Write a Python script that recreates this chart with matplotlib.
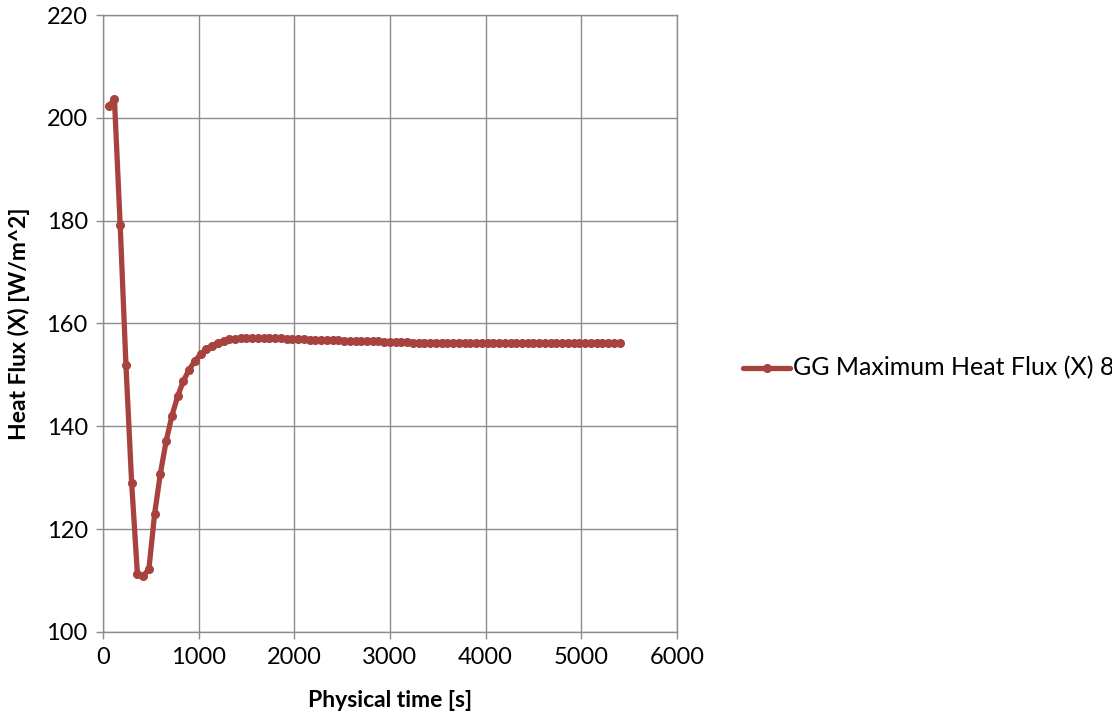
import matplotlib
matplotlib.use("Agg")
import matplotlib.pyplot as plt
from matplotlib.lines import Line2D

plt.rcParams['font.family'] = ['Lato', 'DejaVu Sans']

# Physical time [s]
time_s = [
    60, 120, 180, 240, 300, 360, 420, 480, 540, 600,
    660, 720, 780, 840, 900, 960, 1020, 1080, 1140, 1200,
    1260, 1320, 1380, 1440, 1500, 1560, 1620, 1680, 1740, 1800,
    1860, 1920, 1980, 2040, 2100, 2160, 2220, 2280, 2340, 2400,
    2460, 2520, 2580, 2640, 2700, 2760, 2820, 2880, 2940, 3000,
    3060, 3120, 3180, 3240, 3300, 3360, 3420, 3480, 3540, 3600,
    3660, 3720, 3780, 3840, 3900, 3960, 4020, 4080, 4140, 4200,
    4260, 4320, 4380, 4440, 4500, 4560, 4620, 4680, 4740, 4800,
    4860, 4920, 4980, 5040, 5100, 5160, 5220, 5280, 5340, 5400,
]

# GG maximum heat flux (X) [W/m^2]
heat_flux = [
    202.3, 203.6, 179.1, 152.0, 128.9, 111.3, 110.9, 112.2, 123.0, 130.8,
    137.1, 142.0, 145.8, 148.8, 151.0, 152.7, 154.0, 155.0, 155.7, 156.2,
    156.6, 156.9, 157.0, 157.1, 157.2, 157.2, 157.2, 157.2, 157.2, 157.1,
    157.1, 157.0, 157.0, 156.9, 156.9, 156.8, 156.8, 156.8, 156.7, 156.7,
    156.7, 156.6, 156.6, 156.6, 156.5, 156.5, 156.5, 156.5, 156.4, 156.4,
    156.4, 156.4, 156.4, 156.3, 156.3, 156.3, 156.3, 156.3, 156.3, 156.3,
    156.3, 156.3, 156.2, 156.2, 156.2, 156.2, 156.2, 156.2, 156.2, 156.2,
    156.2, 156.2, 156.2, 156.2, 156.2, 156.2, 156.2, 156.2, 156.2, 156.2,
    156.2, 156.2, 156.2, 156.2, 156.2, 156.2, 156.2, 156.2, 156.2, 156.2,
]

series_label = "GG Maximum Heat Flux (X) 8"
x_ticks = [0, 1000, 2000, 3000, 4000, 5000, 6000]
y_ticks = [100, 120, 140, 160, 180, 200, 220]

line_color = "#A8423F"
grid_color = "#8C8C8C"

fig = plt.figure(figsize=(11.12, 7.22), dpi=100)
ax = fig.add_axes([0.0926, 0.1247, 0.5162, 0.8545])

ax.plot(time_s, heat_flux, color=line_color, linewidth=3.8,
        marker='o', markersize=5.5, markerfacecolor=line_color,
        markeredgecolor=line_color, solid_joinstyle='round', zorder=3)

ax.set_xlim(0, 6000)
ax.set_ylim(100, 220)
ax.set_xticks(x_ticks)
ax.set_yticks(y_ticks)
ax.grid(True, color=grid_color, linewidth=1.0)
ax.set_axisbelow(True)

for side in ['left', 'bottom', 'top', 'right']:
    ax.spines[side].set_color(grid_color)
    ax.spines[side].set_linewidth(1.0)

ax.tick_params(axis='both', direction='out', length=5, width=1.0,
               color=grid_color, labelsize=17, labelcolor='black', pad=6)

ax.set_xlabel("Physical time [s]", fontsize=16.5, fontweight='bold', labelpad=16)
ax.set_ylabel("Heat Flux (X) [W/m^2]", fontsize=16.5, fontweight='bold', labelpad=12)

# Legend entry drawn in figure coordinates, running off the right edge
ly = 1 - 368 / 722
fig.add_artist(Line2D([743 / 1112, 790 / 1112], [ly, ly], color=line_color,
                      linewidth=3.8, solid_capstyle='round'))
fig.add_artist(Line2D([766.5 / 1112], [ly], color=line_color, marker='o',
                      markersize=5.5, linestyle='none'))
fig.text(793 / 1112, ly, series_label, fontsize=18, va='center', ha='left',
         color='black')

fig.savefig("out.png", dpi=100)
